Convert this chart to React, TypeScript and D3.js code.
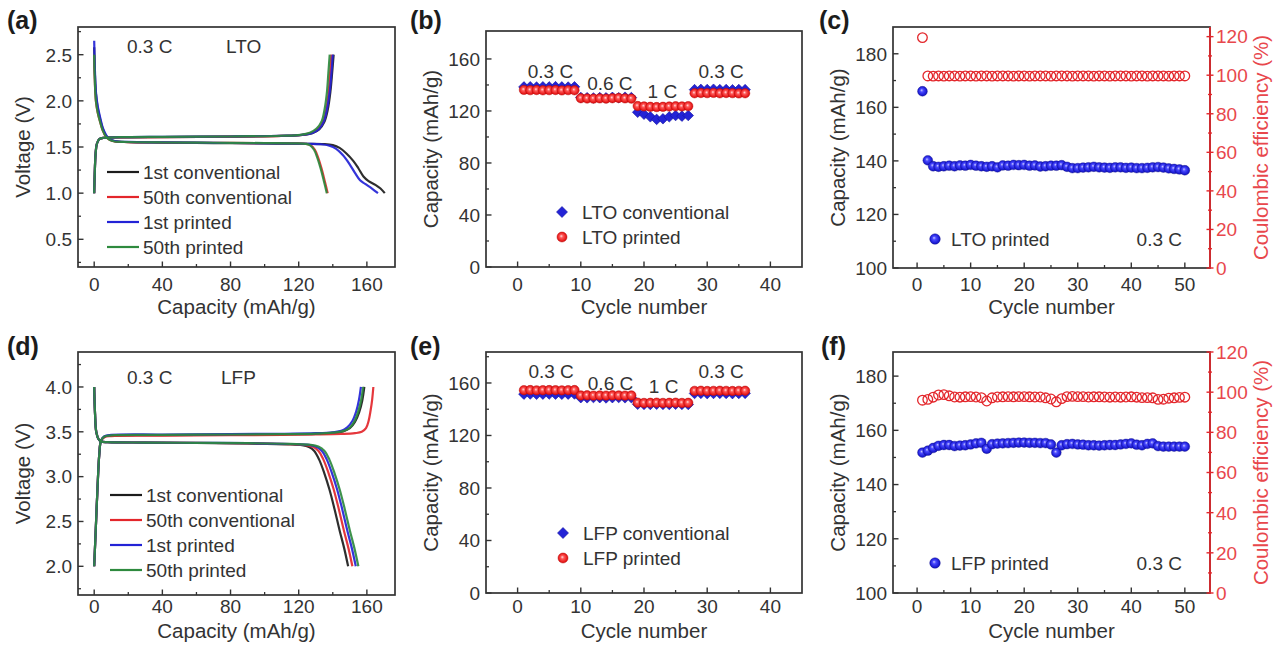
import React from 'react';
import * as d3 from 'd3';

const FONT = '"Liberation Sans", Arial, Helvetica, sans-serif';
const INK = '#333333';
const RED = '#e3262b';
const REDTXT = '#e8474c';
const BLUE = '#2323d6';
const GREEN = '#2e8a3e';
const BLACK = '#1c1c1c';

// ---------- Panel (a): LTO voltage profiles [capacity mAh/g, voltage V] ----------
const ltoDis1stConv: [number, number][] = [[0,2.58],[0.4,2.3],[1,2.08],[2,1.93],[3.5,1.8],[5,1.7],[7,1.62],[9,1.585],[12,1.563],[20,1.553],[40,1.548],[70,1.543],[100,1.538],[125,1.535],[135,1.532],[140,1.52],[144,1.49],[148,1.43],[152,1.35],[155,1.27],[158,1.18],[161,1.13],[165,1.09],[168,1.05],[170.5,1.0]];
const ltoDis50thConv: [number, number][] = [[0,2.5],[0.4,2.2],[1,2.0],[2,1.88],[3.5,1.77],[5,1.68],[7,1.61],[9,1.578],[12,1.56],[20,1.553],[40,1.548],[70,1.545],[100,1.542],[118,1.54],[124,1.535],[127,1.52],[129.5,1.47],[131.5,1.38],[133.5,1.26],[135.3,1.13],[137,1.0]];
const ltoDis1stPrinted: [number, number][] = [[0,2.65],[0.4,2.35],[1,2.1],[2,1.95],[3.5,1.82],[5,1.71],[7,1.63],[9,1.585],[12,1.565],[20,1.555],[40,1.55],[70,1.545],[100,1.54],[125,1.535],[133,1.53],[138,1.515],[142,1.48],[146,1.41],[150,1.31],[153,1.22],[156,1.14],[159,1.1],[163,1.05],[166.5,1.0]];
const ltoDis50thPrinted: [number, number][] = [[0,2.5],[0.4,2.2],[1,2.0],[2,1.88],[3.5,1.77],[5,1.68],[7,1.61],[9,1.578],[12,1.56],[20,1.554],[40,1.549],[70,1.546],[100,1.543],[118,1.54],[124,1.534],[126.5,1.52],[129,1.47],[131,1.38],[133,1.26],[134.8,1.13],[136.5,1.0]];
const ltoChg1stConv: [number, number][] = [[0,1.0],[0.3,1.2],[0.8,1.42],[1.5,1.53],[3,1.585],[6,1.6],[15,1.605],[40,1.608],[80,1.612],[110,1.62],[122,1.63],[128,1.65],[132,1.69],[135,1.77],[137,1.9],[138.6,2.1],[139.6,2.3],[140.5,2.5]];
const ltoChg50thConv: [number, number][] = [[0,1.0],[0.3,1.2],[0.8,1.42],[1.5,1.53],[3,1.585],[6,1.6],[15,1.605],[40,1.608],[80,1.612],[110,1.62],[122,1.632],[127.5,1.655],[131.5,1.7],[134.5,1.78],[136.3,1.92],[137.6,2.1],[138.4,2.3],[139.2,2.5]];
const ltoChg1stPrinted: [number, number][] = [[0,1.0],[0.3,1.2],[0.8,1.42],[1.5,1.53],[3,1.585],[6,1.6],[15,1.606],[40,1.61],[80,1.614],[110,1.622],[122,1.632],[128,1.652],[132,1.695],[134.8,1.78],[136.7,1.92],[138.2,2.1],[139.2,2.3],[140,2.5]];
const ltoChg50thPrinted: [number, number][] = [[0,1.0],[0.3,1.2],[0.8,1.42],[1.5,1.53],[3,1.585],[6,1.6],[15,1.606],[40,1.61],[80,1.614],[110,1.622],[121,1.632],[126.5,1.655],[130.5,1.7],[133.5,1.78],[135.3,1.92],[136.6,2.1],[137.4,2.3],[138.2,2.5]];

// ---------- Panel (d): LFP voltage profiles ----------
const lfpDis1stConv: [number, number][] = [[0,4.0],[0.5,3.7],[1.2,3.5],[2.5,3.42],[4,3.392],[8,3.385],[30,3.38],[60,3.375],[90,3.37],[115,3.36],[122,3.35],[126,3.33],[129,3.29],[132,3.19],[135,3.04],[138,2.86],[141,2.64],[144,2.4],[146.7,2.2],[149,2.0]];
const lfpDis50thConv: [number, number][] = [[0,4.0],[0.5,3.7],[1.2,3.5],[2.5,3.42],[4,3.392],[8,3.385],[30,3.38],[60,3.376],[90,3.372],[115,3.362],[124,3.352],[128,3.335],[131.5,3.29],[134.5,3.19],[137.5,3.04],[140.5,2.86],[143.5,2.64],[146.5,2.4],[149.2,2.2],[151.5,2.0]];
const lfpDis1stPrinted: [number, number][] = [[0,4.0],[0.5,3.7],[1.2,3.5],[2.5,3.42],[4,3.392],[8,3.385],[30,3.38],[60,3.377],[90,3.373],[115,3.364],[126,3.354],[130,3.335],[133.5,3.29],[136.5,3.19],[139.5,3.04],[142.5,2.86],[145.5,2.64],[148.5,2.4],[151.2,2.2],[153.5,2.0]];
const lfpDis50thPrinted: [number, number][] = [[0,4.0],[0.5,3.7],[1.2,3.5],[2.5,3.42],[4,3.392],[8,3.385],[30,3.38],[60,3.377],[90,3.373],[115,3.365],[127,3.355],[131.5,3.335],[135,3.29],[138,3.19],[141,3.04],[144,2.86],[147,2.64],[150,2.4],[152.7,2.2],[155,2.0]];
const lfpChg1stConv: [number, number][] = [[0,2.0],[1,2.45],[2,2.9],[3,3.25],[4,3.4],[6,3.445],[10,3.458],[40,3.463],[80,3.468],[110,3.472],[130,3.478],[140,3.488],[146,3.505],[150,3.54],[153,3.61],[155.5,3.72],[157.3,3.85],[158.5,4.0]];
const lfpChg50thConv: [number, number][] = [[0,2.0],[1,2.45],[2,2.9],[3,3.25],[4,3.4],[6,3.44],[10,3.452],[40,3.457],[80,3.462],[110,3.466],[130,3.47],[145,3.476],[153,3.485],[157,3.5],[159.5,3.54],[161,3.62],[162.2,3.74],[163.1,3.86],[163.8,4.0]];
const lfpChg1stPrinted: [number, number][] = [[0,2.0],[1,2.45],[2,2.9],[3,3.25],[4,3.4],[6,3.45],[10,3.465],[40,3.47],[80,3.474],[110,3.478],[130,3.485],[140,3.495],[145,3.51],[148.5,3.55],[151.5,3.62],[153.8,3.73],[155.4,3.86],[156.5,4.0]];
const lfpChg50thPrinted: [number, number][] = [[0,2.0],[1,2.45],[2,2.9],[3,3.25],[4,3.4],[6,3.447],[10,3.46],[40,3.465],[80,3.47],[110,3.474],[130,3.48],[140,3.49],[146,3.508],[150,3.545],[152.8,3.62],[155,3.73],[156.7,3.86],[157.8,4.0]];

// ---------- Panel (b): LTO rate capability ----------
const rateCycles = d3.range(1, 37);
const ltoRateConv = [138.5,138.6,138.4,138.6,138.5,138.7,138.5,138.4,138.6, 130.4,130.2,130.0,130.3,130.1,130.5,130.2,130.6,130.3, 119,117.5,115.5,113.5,114,115.5,116.5,116,116.5, 136.4,136.6,136.5,136.7,136.4,136.5,136.3,136.5,136.4];
const ltoRatePrinted = [136.2,136.0,136.1,135.9,136.0,136.1,135.8,136.0,135.9, 129.8,129.6,129.5,129.7,129.5,129.8,130.0,129.7,129.5, 123.8,123.5,123.2,123.0,123.2,123.4,123.6,123.5,123.7, 133.6,133.8,133.7,133.9,133.6,133.8,133.7,133.5,133.6];
const ltoRateLabels = [{ t: '0.3 C', c: 5.2, v: 145 }, { t: '0.6 C', c: 14.6, v: 136 }, { t: '1 C', c: 22.9, v: 130 }, { t: '0.3 C', c: 32.2, v: 145 }];

// ---------- Panel (e): LFP rate capability ----------
const lfpRateConv = [151.5,151.6,151.4,151.5,151.6,151.5,151.4,151.5,151.6, 148.8,148.7,148.9,148.8,148.6,148.8,148.9,148.7,148.8, 143.8,143.7,143.6,143.8,143.7,143.6,143.8,143.7,143.6, 152.0,152.1,151.9,152.0,152.1,152.0,151.9,152.0,152.1];
const lfpRatePrinted = [154.5,154.6,154.4,154.5,154.6,154.5,154.4,154.5,154.6, 150.5,150.6,150.4,150.5,150.4,150.6,150.5,150.4,150.5, 145.0,144.8,144.9,145.0,144.8,144.9,145.0,144.8,144.9, 154.0,154.1,153.9,154.0,154.1,154.0,153.9,154.0,154.1];
const lfpRateLabels = [{ t: '0.3 C', c: 5.3, v: 164 }, { t: '0.6 C', c: 14.7, v: 154.8 }, { t: '1 C', c: 23.1, v: 152.3 }, { t: '0.3 C', c: 32.2, v: 164 }];

// ---------- Panel (c): LTO printed cycling ----------
const cycles50 = d3.range(1, 51);
const ltoCycCap = [166,140.2,138,137.8,138,138.2,138,138.3,138.2,138.5,138.2,138,137.8,138,137.6,138.3,138.2,138.5,138.4,138.5,138.2,138.3,137.9,138,138.2,138.2,138.4,137.8,137.3,137.3,137.5,137.6,137.8,137.6,137.5,137.4,137.6,137.6,137.4,137.5,137.3,137.3,137.4,137.6,137.7,137.5,137.2,137,136.8,136.5];
const ltoCycCE = [119.5,99.6,99.5,99.6,99.5,99.6,99.6,99.5,99.6,99.6,99.5,99.6,99.6,99.5,99.6,99.6,99.6,99.5,99.6,99.6,99.5,99.6,99.6,99.6,99.5,99.6,99.6,99.6,99.5,99.6,99.6,99.6,99.5,99.6,99.6,99.5,99.6,99.6,99.6,99.5,99.6,99.6,99.5,99.6,99.6,99.6,99.5,99.6,99.6,99.6];

// ---------- Panel (f): LFP printed cycling ----------
const lfpCycCap = [151.8,152.5,153.5,154.3,154.6,154.6,154.2,154.4,154.5,154.8,155.2,155.4,153.2,154.9,155.1,155.2,155.3,155.4,155.5,155.5,155.4,155.4,155.3,155.3,154.8,151.8,154.5,154.9,155,154.8,154.7,154.5,154.5,154.4,154.5,154.6,154.6,154.8,155,155.2,154.7,154.5,155,155.2,154.2,154,154,154,154,154];
const lfpCycCE = [96,96.4,97.5,98.6,98.8,98.2,97.6,97.5,97.7,97.8,97.6,97.3,95.6,97.2,97.6,97.7,97.8,97.7,97.8,97.8,97.7,97.6,97.6,97.2,96.6,95.2,96.8,97.8,97.9,97.8,97.8,97.6,97.7,97.7,97.6,97.5,97.6,97.5,97.6,97.7,97.5,97.3,97.3,97.2,96.4,96.5,97,97.2,97.4,97.5];

const profileLegend = ['1st conventional', '50th conventional', '1st printed', '50th printed'];
const profileColors = [BLACK, RED, BLUE, GREEN];

type Box = { x0: number; x1: number; y0: number; y1: number };
type Sc = d3.ScaleLinear<number, number>;

const boxA: Box = { x0: 78, x1: 395, y0: 27, y1: 267 };
const boxB: Box = { x0: 486, x1: 802, y0: 31, y1: 267 };
const boxC: Box = { x0: 893, x1: 1210, y0: 27, y1: 268 };
const boxD: Box = { x0: 78, x1: 395, y0: 352, y1: 595 };
const boxE: Box = { x0: 486, x1: 802, y0: 352, y1: 593 };
const boxF: Box = { x0: 893, x1: 1210, y0: 352, y1: 593 };

const sxA = d3.scaleLinear([-9.5, 176.5], [boxA.x0, boxA.x1]);
const syA = d3.scaleLinear([0.2, 2.8], [boxA.y1, boxA.y0]);
const sxD = d3.scaleLinear([-9.5, 176.5], [boxD.x0, boxD.x1]);
const syD = d3.scaleLinear([1.68, 4.39], [boxD.y1, boxD.y0]);
const sxB = d3.scaleLinear([-5, 45], [boxB.x0, boxB.x1]);
const syB = d3.scaleLinear([0, 181.5], [boxB.y1, boxB.y0]);
const sxE = d3.scaleLinear([-5, 45], [boxE.x0, boxE.x1]);
const syE = d3.scaleLinear([0, 183.6], [boxE.y1, boxE.y0]);
const sxC = d3.scaleLinear([-4.5, 54.7], [boxC.x0, boxC.x1]);
const syC = d3.scaleLinear([100, 190], [boxC.y1, boxC.y0]);
const syC2 = d3.scaleLinear([0, 125], [boxC.y1, boxC.y0]);
const sxF = d3.scaleLinear([-4.5, 54.7], [boxF.x0, boxF.x1]);
const syF = d3.scaleLinear([100, 188.9], [boxF.y1, boxF.y0]);
const syF2 = d3.scaleLinear([0, 120], [boxF.y1, boxF.y0]);

const TICK = 19;
const TITLE = 20.5;
const TXT = 19;

function inside(vals: number[], s: Sc) {
  const [a, b] = s.domain();
  const lo = Math.min(a, b), hi = Math.max(a, b);
  const eps = (hi - lo) * 0.01;
  return vals.filter(v => v > lo + eps && v < hi - eps);
}

function Axes(p: {
  box: Box; sx: Sc; sy: Sc; xMajor: number[]; xMinor: number[]; yMajor: number[]; yMinor: number[];
  xFmt: (v: number) => string; yFmt: (v: number) => string; tickBase: number; titleBase: number;
  xTitle: string; yTitle: string; label: string; labelX: number; labelY: number;
}) {
  const { box, sx, sy } = p;
  const cy = (box.y0 + box.y1) / 2;
  return (
    <g>
      {inside(p.xMinor, sx).map(v => <line key={'xm' + v} x1={sx(v)} x2={sx(v)} y1={box.y1} y2={box.y1 - 3} stroke={INK} strokeWidth={1.3} />)}
      {p.xMajor.map(v => <line key={'xM' + v} x1={sx(v)} x2={sx(v)} y1={box.y1} y2={box.y1 - 5.5} stroke={INK} strokeWidth={1.4} />)}
      {inside(p.yMinor, sy).map(v => <line key={'ym' + v} x1={box.x0} x2={box.x0 + 3} y1={sy(v)} y2={sy(v)} stroke={INK} strokeWidth={1.3} />)}
      {p.yMajor.map(v => <line key={'yM' + v} x1={box.x0} x2={box.x0 + 5.5} y1={sy(v)} y2={sy(v)} stroke={INK} strokeWidth={1.4} />)}
      {p.xMajor.map(v => <text key={'xt' + v} x={sx(v)} y={p.tickBase} textAnchor="middle" fontSize={TICK} fill={INK}>{p.xFmt(v)}</text>)}
      {p.yMajor.map(v => <text key={'yt' + v} x={box.x0 - 6} y={sy(v)} dy="0.36em" textAnchor="end" fontSize={TICK} fill={INK}>{p.yFmt(v)}</text>)}
      <text x={(box.x0 + box.x1) / 2} y={p.titleBase} textAnchor="middle" fontSize={TITLE} fill={INK}>{p.xTitle}</text>
      <text transform={`translate(${box.x0 - 48},${cy}) rotate(-90)`} textAnchor="middle" fontSize={TITLE} fill={INK}>{p.yTitle}</text>
      <text x={p.labelX} y={p.labelY} fontSize={25} fontWeight="bold" fill={BLACK}>{p.label}</text>
    </g>
  );
}

function Frame({ box }: { box: Box }) {
  return <rect x={box.x0} y={box.y0} width={box.x1 - box.x0} height={box.y1 - box.y0} fill="none" stroke={INK} strokeWidth={1.7} />;
}

function RightAxis({ box, sy, major, minor, title }: { box: Box; sy: Sc; major: number[]; minor: number[]; title: string }) {
  const cy = (box.y0 + box.y1) / 2;
  return (
    <g>
      <line x1={box.x1} x2={box.x1} y1={box.y0} y2={box.y1} stroke={RED} strokeWidth={1.7} />
      {inside(minor, sy).map(v => <line key={'rm' + v} x1={box.x1 - 2} x2={box.x1 + 2} y1={sy(v)} y2={sy(v)} stroke={RED} strokeWidth={1.3} />)}
      {major.map(v => <line key={'rM' + v} x1={box.x1 - 3.5} x2={box.x1 + 3.5} y1={sy(v)} y2={sy(v)} stroke={RED} strokeWidth={1.4} />)}
      {major.map(v => <text key={'rt' + v} x={box.x1 + 6} y={sy(v)} dy="0.36em" textAnchor="start" fontSize={TICK} fill={REDTXT}>{v}</text>)}
      <text transform={`translate(${box.x1 + 58},${cy}) rotate(-90)`} textAnchor="middle" fontSize={TITLE} fill={REDTXT}>{title}</text>
    </g>
  );
}

function Profiles({ sx, sy, curves }: { sx: Sc; sy: Sc; curves: { d: [number, number][]; c: string }[] }) {
  const line = d3.line<[number, number]>().x(d => sx(d[0])).y(d => sy(d[1])).curve(d3.curveCatmullRom.alpha(0.5));
  return <g>{curves.map((k, i) => <path key={i} d={line(k.d) || ''} fill="none" stroke={k.c} strokeWidth={2.2} strokeLinejoin="round" opacity={0.92} />)}</g>;
}

function LineLegend({ x, y0, step }: { x: number; y0: number; step: number }) {
  return (
    <g>
      {profileLegend.map((t, i) => (
        <g key={t}>
          <line x1={x} x2={x + 32} y1={y0 + i * step} y2={y0 + i * step} stroke={profileColors[i]} strokeWidth={2.2} />
          <text x={x + 36} y={y0 + i * step} dy="0.36em" fontSize={TXT} fill={INK}>{t}</text>
        </g>
      ))}
    </g>
  );
}

function diamond(cx: number, cy: number, r: number) {
  return `M${cx},${cy - r}L${cx + r},${cy}L${cx},${cy + r}L${cx - r},${cy}Z`;
}

function RatePanel({ sx, sy, conv, printed, labels, names, legendX, legendY }: {
  sx: Sc; sy: Sc; conv: number[]; printed: number[]; labels: { t: string; c: number; v: number }[]; names: string[]; legendX: number; legendY: number;
}) {
  return (
    <g>
      {rateCycles.map((c, i) => <path key={'c' + c} d={diamond(sx(c), sy(conv[i]), 5.3)} fill={BLUE} stroke="#1010a0" strokeWidth={0.6} />)}
      {rateCycles.map((c, i) => <circle key={'p' + c} cx={sx(c)} cy={sy(printed[i])} r={4.7} fill="url(#sphRed)" stroke="#c01010" strokeWidth={0.5} />)}
      {labels.map((l, i) => <text key={i} x={sx(l.c)} y={sy(l.v)} textAnchor="middle" fontSize={TXT} fill={INK}>{l.t}</text>)}
      <path d={diamond(legendX, legendY, 5.5)} fill={BLUE} stroke="#1010a0" strokeWidth={0.6} />
      <text x={legendX + 20} y={legendY} dy="0.36em" fontSize={TXT} fill={INK}>{names[0]}</text>
      <circle cx={legendX} cy={legendY + 25} r={5} fill="url(#sphRed)" stroke="#c01010" strokeWidth={0.5} />
      <text x={legendX + 20} y={legendY + 25} dy="0.36em" fontSize={TXT} fill={INK}>{names[1]}</text>
    </g>
  );
}

function CyclePanel({ box, sx, sy, sy2, cap, ce, name, legendY }: { box: Box; sx: Sc; sy: Sc; sy2: Sc; cap: number[]; ce: number[]; name: string; legendY: number }) {
  return (
    <g>
      {cycles50.map((c, i) => <circle key={'e' + c} cx={sx(c)} cy={sy2(ce[i])} r={4.8} fill="none" stroke={RED} strokeWidth={1.3} />)}
      {cycles50.map((c, i) => <circle key={'b' + c} cx={sx(c)} cy={sy(cap[i])} r={4.9} fill="url(#sphBlue)" stroke="#1a1aa0" strokeWidth={0.4} />)}
      <circle cx={box.x0 + 42} cy={legendY} r={5.3} fill="url(#sphBlue)" stroke="#1a1aa0" strokeWidth={0.4} />
      <text x={box.x0 + 58} y={legendY} dy="0.36em" fontSize={TXT} fill={INK}>{name}</text>
      <text x={box.x1 - 28} y={legendY} dy="0.36em" textAnchor="end" fontSize={TXT} fill={INK}>0.3 C</text>
    </g>
  );
}

export default function App() {
  const f0 = (v: number) => String(v);
  const f1 = (v: number) => v.toFixed(1);
  return (
    <svg width={1287} height={645} viewBox="0 0 1287 645" style={{ position: 'absolute', left: 0, top: 0, background: '#fff' }} fontFamily={FONT}>
      <defs>
        <radialGradient id="sphRed" cx="50%" cy="50%" r="55%" fx="42%" fy="40%">
          <stop offset="0%" stopColor="#ffe0e0" />
          <stop offset="30%" stopColor="#ff5a5a" />
          <stop offset="80%" stopColor="#e51616" />
          <stop offset="100%" stopColor="#b80000" />
        </radialGradient>
        <radialGradient id="sphBlue" cx="50%" cy="50%" r="55%" fx="40%" fy="38%">
          <stop offset="0%" stopColor="#c8c8ff" />
          <stop offset="30%" stopColor="#4a4aff" />
          <stop offset="80%" stopColor="#1818d0" />
          <stop offset="100%" stopColor="#0a0a80" />
        </radialGradient>
      </defs>
      <rect x={0} y={0} width={1287} height={645} fill="#fff" />

      {/* (a) */}
      <Profiles sx={sxA} sy={syA} curves={[
        { d: ltoDis1stConv, c: BLACK }, { d: ltoChg1stConv, c: BLACK },
        { d: ltoDis50thConv, c: RED }, { d: ltoChg50thConv, c: RED },
        { d: ltoDis1stPrinted, c: BLUE }, { d: ltoChg1stPrinted, c: BLUE },
        { d: ltoDis50thPrinted, c: GREEN }, { d: ltoChg50thPrinted, c: GREEN },
      ]} />
      <text x={127} y={53} fontSize={TXT} fill={INK}>0.3 C</text>
      <text x={226} y={53} fontSize={TXT} fill={INK}>LTO</text>
      <LineLegend x={107} y0={172} step={25} />
      <Axes box={boxA} sx={sxA} sy={syA} xMajor={[0, 40, 80, 120, 160]} xMinor={[20, 60, 100, 140]}
        yMajor={[0.5, 1, 1.5, 2, 2.5]} yMinor={[0.25, 0.75, 1.25, 1.75, 2.25, 2.75]} xFmt={f0} yFmt={f1}
        tickBase={291} titleBase={314} xTitle="Capacity (mAh/g)" yTitle="Voltage (V)" label="(a)" labelX={7} labelY={29} />
      <Frame box={boxA} />

      {/* (b) */}
      <RatePanel sx={sxB} sy={syB} conv={ltoRateConv} printed={ltoRatePrinted} labels={ltoRateLabels}
        names={['LTO conventional', 'LTO printed']} legendX={562} legendY={212} />
      <Axes box={boxB} sx={sxB} sy={syB} xMajor={[0, 10, 20, 30, 40]} xMinor={[5, 15, 25, 35]}
        yMajor={[0, 40, 80, 120, 160]} yMinor={[20, 60, 100, 140, 180]} xFmt={f0} yFmt={f0}
        tickBase={291} titleBase={314} xTitle="Cycle number" yTitle="Capacity (mAh/g)" label="(b)" labelX={410} labelY={29} />
      <Frame box={boxB} />

      {/* (c) */}
      <CyclePanel box={boxC} sx={sxC} sy={syC} sy2={syC2} cap={ltoCycCap} ce={ltoCycCE} name="LTO printed" legendY={239} />
      <Axes box={boxC} sx={sxC} sy={syC} xMajor={[0, 10, 20, 30, 40, 50]} xMinor={[5, 15, 25, 35, 45]}
        yMajor={[100, 120, 140, 160, 180]} yMinor={[110, 130, 150, 170]} xFmt={f0} yFmt={f0}
        tickBase={291} titleBase={314} xTitle="Cycle number" yTitle="Capacity (mAh/g)" label="(c)" labelX={819} labelY={29} />
      <Frame box={boxC} />
      <RightAxis box={boxC} sy={syC2} major={[0, 20, 40, 60, 80, 100, 120]} minor={[10, 30, 50, 70, 90, 110]} title="Coulombic efficiency (%)" />

      {/* (d) */}
      <Profiles sx={sxD} sy={syD} curves={[
        { d: lfpDis1stConv, c: BLACK }, { d: lfpChg1stConv, c: BLACK },
        { d: lfpDis50thConv, c: RED }, { d: lfpChg50thConv, c: RED },
        { d: lfpDis1stPrinted, c: BLUE }, { d: lfpChg1stPrinted, c: BLUE },
        { d: lfpDis50thPrinted, c: GREEN }, { d: lfpChg50thPrinted, c: GREEN },
      ]} />
      <text x={127} y={384} fontSize={TXT} fill={INK}>0.3 C</text>
      <text x={221} y={384} fontSize={TXT} fill={INK}>LFP</text>
      <LineLegend x={110} y0={495} step={25} />
      <Axes box={boxD} sx={sxD} sy={syD} xMajor={[0, 40, 80, 120, 160]} xMinor={[20, 60, 100, 140]}
        yMajor={[2, 2.5, 3, 3.5, 4]} yMinor={[1.75, 2.25, 2.75, 3.25, 3.75, 4.25]} xFmt={f0} yFmt={f1}
        tickBase={613} titleBase={638} xTitle="Capacity (mAh/g)" yTitle="Voltage (V)" label="(d)" labelX={7} labelY={355} />
      <Frame box={boxD} />

      {/* (e) */}
      <RatePanel sx={sxE} sy={syE} conv={lfpRateConv} printed={lfpRatePrinted} labels={lfpRateLabels}
        names={['LFP conventional', 'LFP printed']} legendX={563} legendY={533} />
      <Axes box={boxE} sx={sxE} sy={syE} xMajor={[0, 10, 20, 30, 40]} xMinor={[5, 15, 25, 35]}
        yMajor={[0, 40, 80, 120, 160]} yMinor={[20, 60, 100, 140, 180]} xFmt={f0} yFmt={f0}
        tickBase={613} titleBase={638} xTitle="Cycle number" yTitle="Capacity (mAh/g)" label="(e)" labelX={410} labelY={355} />
      <Frame box={boxE} />

      {/* (f) */}
      <CyclePanel box={boxF} sx={sxF} sy={syF} sy2={syF2} cap={lfpCycCap} ce={lfpCycCE} name="LFP printed" legendY={563} />
      <Axes box={boxF} sx={sxF} sy={syF} xMajor={[0, 10, 20, 30, 40, 50]} xMinor={[5, 15, 25, 35, 45]}
        yMajor={[100, 120, 140, 160, 180]} yMinor={[110, 130, 150, 170]} xFmt={f0} yFmt={f0}
        tickBase={613} titleBase={638} xTitle="Cycle number" yTitle="Capacity (mAh/g)" label="(f)" labelX={821} labelY={355} />
      <Frame box={boxF} />
      <RightAxis box={boxF} sy={syF2} major={[0, 20, 40, 60, 80, 100, 120]} minor={[10, 30, 50, 70, 90, 110]} title="Coulombic efficiency (%)" />
    </svg>
  );
}
